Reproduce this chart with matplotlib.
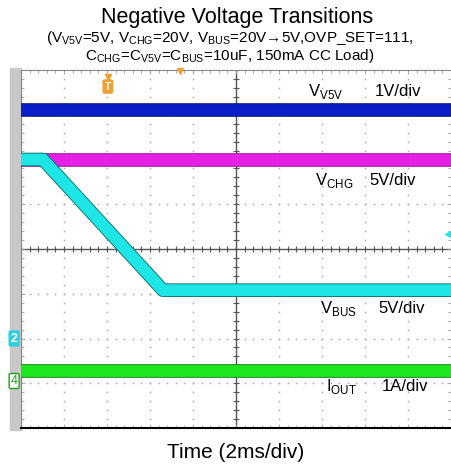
import numpy as np
import matplotlib
matplotlib.use("Agg")
import matplotlib.pyplot as plt
import matplotlib.patheffects as pe
from matplotlib.patches import Rectangle

plt.rcParams['font.family'] = ['Liberation Sans', 'DejaVu Sans']
plt.rcParams['mathtext.fontset'] = 'custom'
plt.rcParams['mathtext.rm'] = 'Liberation Sans'

# scope traces, x and y in divisions (10 x 8 grid, centre = 0)
t_flat = [0, 10]
v5v_y = [3.1, 3.1]
vchg_y = [2.0, 2.0]
vbus_t = [0, 0.51, 3.3, 10]
vbus_y = [2.0, 2.0, -0.92, -0.92]
iout_y = [-2.73, -2.73]

labels = ['V$_{\\mathregular{V5V}}$', 'V$_{\\mathregular{CHG}}$',
          'V$_{\\mathregular{BUS}}$', 'I$_{\\mathregular{OUT}}$']
scales = ['1V/div', '5V/div', '5V/div', '1A/div']
label_x = [6.67, 6.84, 6.95, 7.1]
scale_x = [8.23, 8.1, 8.3, 8.4]
label_y = [3.53, 1.54, -1.32, -3.08]

fig = plt.figure(figsize=(4.52, 4.68), dpi=100)
ax = fig.add_axes([21 / 452, 40 / 468, 430 / 452, 358 / 468])
ax.set_xlim(0, 10)
ax.set_ylim(-4, 4)

# gray strip left of the screen
ax.add_patch(Rectangle((-11 / 43, -4.05), 11 / 43, 8.1, color='#c8c8c8',
                       clip_on=False, zorder=0))

# dotted grid
for i in range(1, 10):
    yy = np.arange(-4, 4.01, 0.2)
    ax.plot(np.full_like(yy, i), yy, ls='none', marker='s', ms=1.1, mew=0, color='#a8a8a8', zorder=1)
for j in range(-3, 4):
    xx = np.arange(0, 10.01, 0.2)
    ax.plot(xx, np.full_like(xx, j), ls='none', marker='s', ms=1.1, mew=0, color='#a8a8a8', zorder=1)

# centre axes with small ticks
ax.axhline(0, color='#555555', lw=1.0, zorder=1)
ax.axvline(5, color='#555555', lw=1.0, zorder=1)
xs = np.arange(0, 10.01, 0.2)
ax.plot(xs, np.zeros_like(xs), ls='none', marker='|', ms=4, mew=0.8, color='#555555', zorder=1)
ys = np.arange(-4, 4.01, 0.2)
ax.plot(np.full_like(ys, 5), ys, ls='none', marker='_', ms=4, mew=0.8, color='#555555', zorder=1)

ax.set_xticks(np.arange(0, 11, 1))
ax.set_yticks(np.arange(-4, 5, 1))
ax.set_xticks(np.arange(0, 10.01, 0.2), minor=True)
ax.set_yticks(np.arange(-4, 4.01, 0.2), minor=True)
ax.tick_params(which='both', direction='in', top=True, right=True,
               labelbottom=False, labelleft=False, color='#999999', width=0.6)
ax.tick_params(which='major', length=3)
ax.tick_params(which='minor', length=2)
for side in ['top', 'right', 'left']:
    ax.spines[side].set_color('#888888')
    ax.spines[side].set_linewidth(0.8)
ax.spines['bottom'].set_color('black')
ax.spines['bottom'].set_linewidth(1.5)

# traces
def band(x, y, c, edge):
    ax.plot(x, y, color=c, lw=8.5, solid_capstyle='butt', zorder=3,
            path_effects=[pe.Stroke(linewidth=9.8, foreground=edge), pe.Normal()])

band(t_flat, v5v_y, '#0a1ec8', '#06106e')
band(t_flat, vchg_y, '#e61ee6', '#8a1090')
band(vbus_t, vbus_y, '#1ee6e6', '#0e6e6e')
band(t_flat, iout_y, '#1ee61e', '#0e780e')

# channel labels
for lab, sc, lx, sx, ly in zip(labels, scales, label_x, scale_x, label_y):
    ax.text(lx, ly, lab, fontsize=12, va='center', ha='left', zorder=5)
    ax.text(sx, ly, sc, fontsize=12, va='center', ha='left', zorder=5)

# trigger and channel markers
ax.text(2.02, 3.63, 'T', fontsize=7.5, color='white', ha='center', va='center', fontweight='bold',
        bbox=dict(boxstyle='round,pad=0.15', fc='#f0a030', ec='#f0a030'), zorder=6)
ax.plot([2.02], [3.85], marker='v', ms=5, color='#f0a030', clip_on=False, zorder=6)
ax.plot([3.7], [3.98], marker='v', ms=4, color='#f0a030', clip_on=False, zorder=6)
ax.plot([9.93], [0.33], marker='<', ms=5, color='#1ee6e6', clip_on=False, zorder=6)
ax.text(-0.16, -2.0, '2', fontsize=9, color='white', ha='center', va='center', fontweight='bold',
        bbox=dict(boxstyle='round,pad=0.12', fc='#2ad0e0', ec='#2ad0e0'), clip_on=False, zorder=6)
ax.text(-0.16, -2.95, '4', fontsize=9, color='#1ea01e', ha='center', va='center',
        bbox=dict(boxstyle='round,pad=0.12', fc='white', ec='#1ea01e'), clip_on=False, zorder=6)

# titles
fig.text(0.525, 1 - 18 / 468, 'Negative Voltage Transitions', fontsize=15.5, ha='center', va='center')
fig.text(0.508, 1 - 38 / 468,
         '(V$_{\\mathregular{V5V}}$=5V, V$_{\\mathregular{CHG}}$=20V, V$_{\\mathregular{BUS}}$=20V\u21925V,OVP_SET=111,',
         fontsize=11, ha='center', va='center')
fig.text(0.508, 1 - 56 / 468,
         'C$_{\\mathregular{CHG}}$=C$_{\\mathregular{V5V}}$=C$_{\\mathregular{BUS}}$=10uF, 150mA CC Load)',
         fontsize=11, ha='center', va='center')
fig.text(236 / 452, 1 - 452 / 468, 'Time (2ms/div)', fontsize=15, ha='center', va='center')

fig.savefig('out.png', dpi=100)
